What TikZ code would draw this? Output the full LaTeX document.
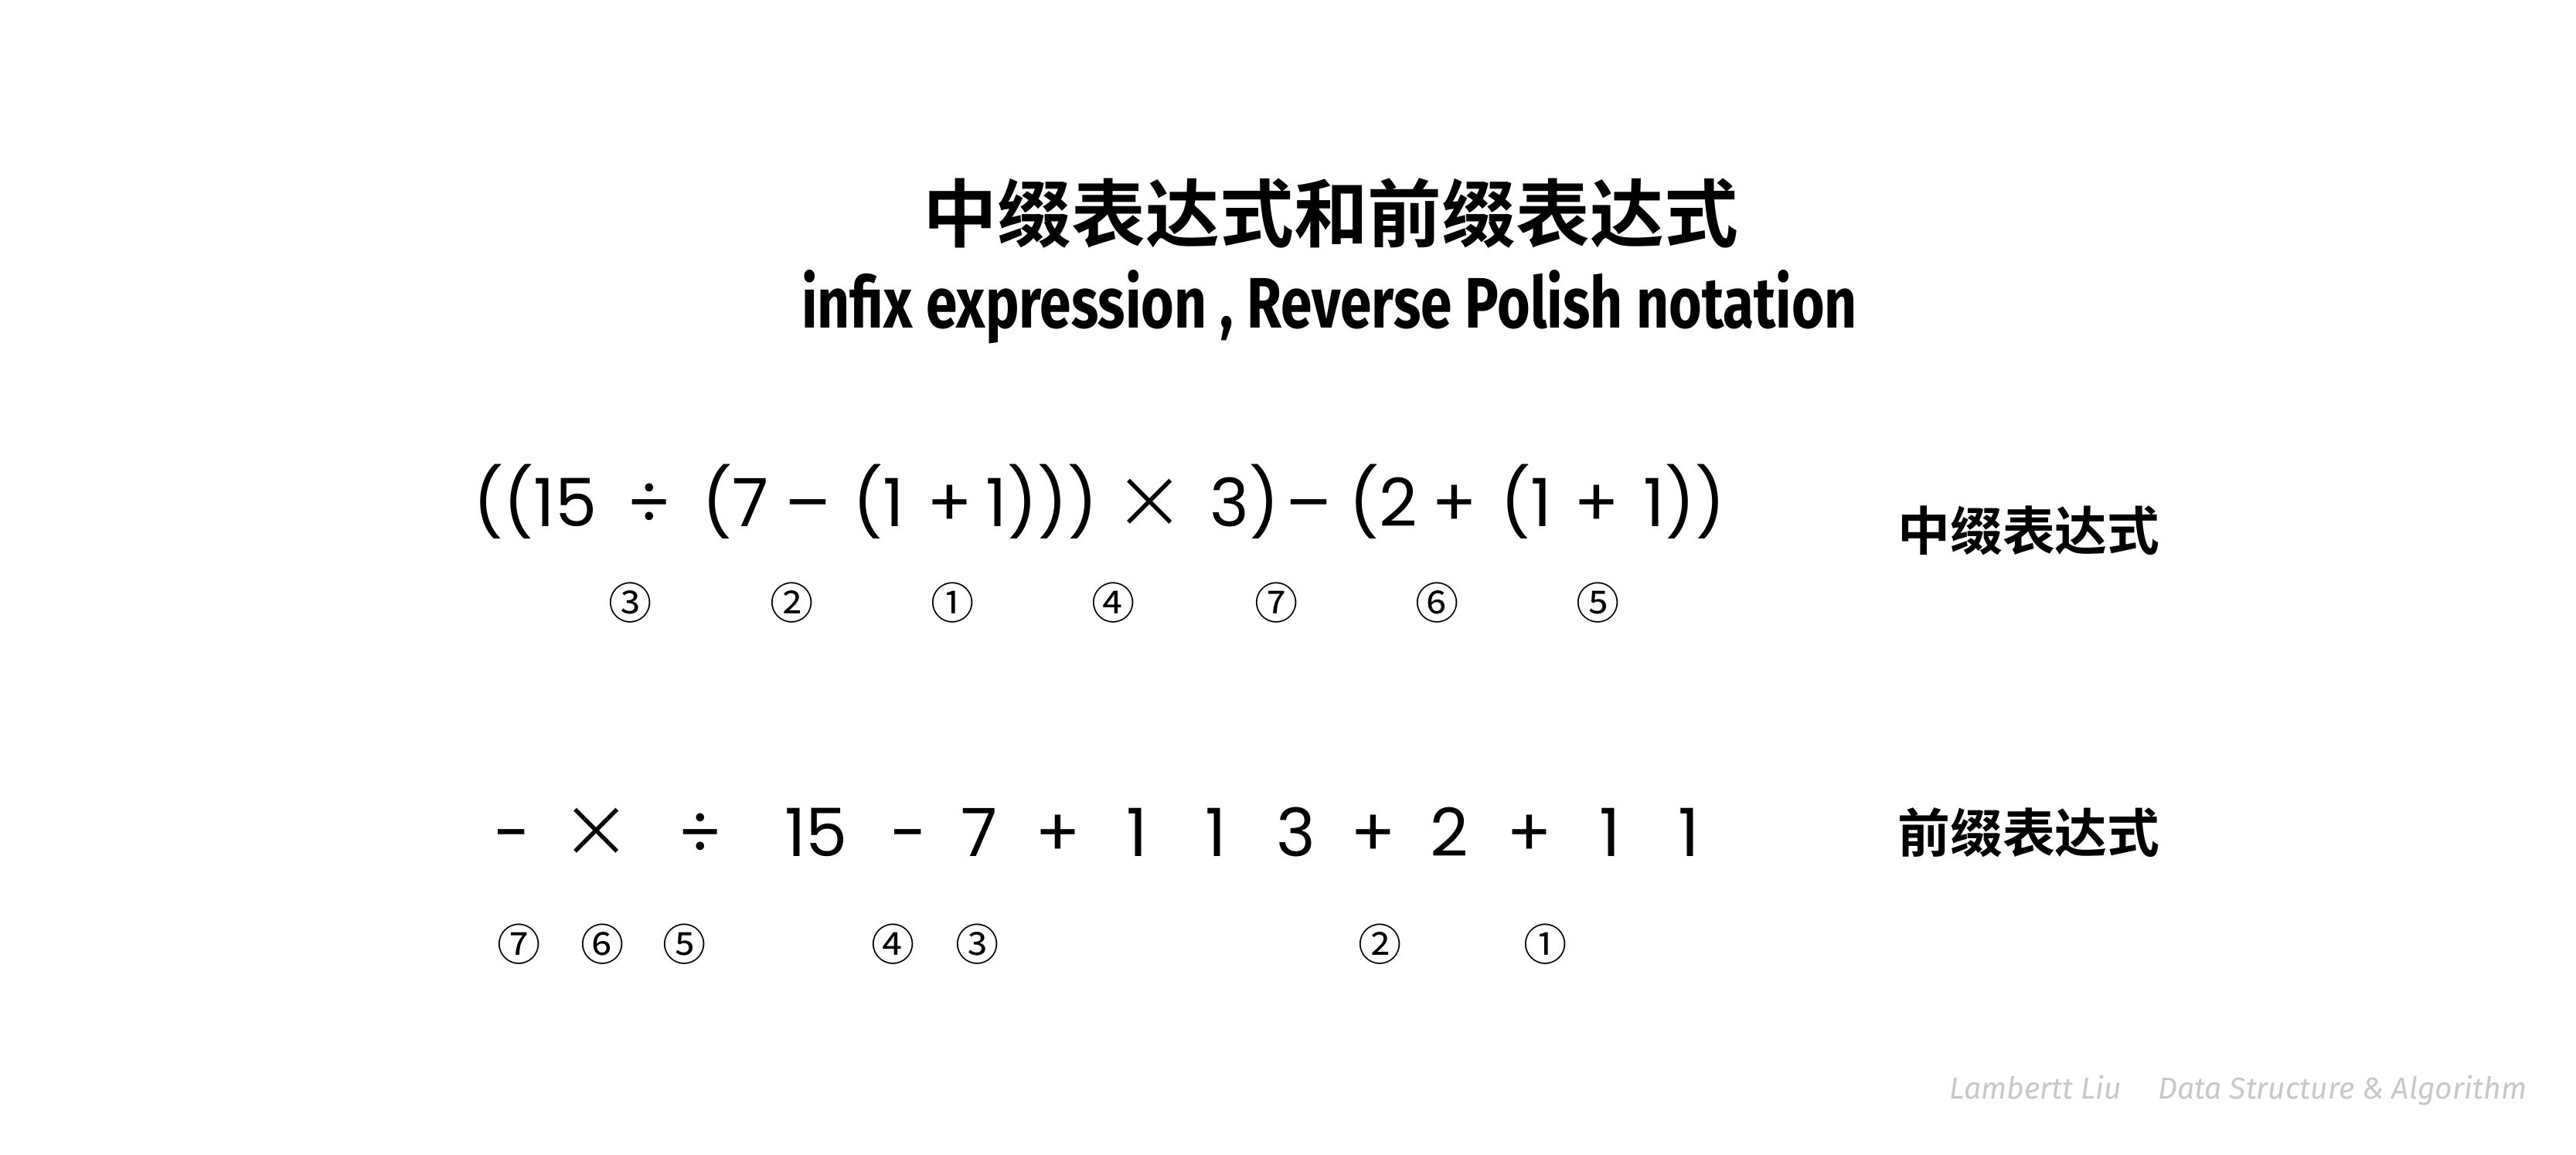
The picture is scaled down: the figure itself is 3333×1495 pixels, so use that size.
\documentclass[tikz,border=0pt]{standalone}
\usepackage{fontspec}
\setmainfont{Poppins}
\newfontfamily\cjkb{Noto Sans CJK SC Bold}
\newfontfamily\cjk{Noto Sans CJK SC}
\newfontfamily\titlefont{Fira Sans}
\newfontfamily\wmfont{Fira Sans}
\newfontfamily\exfont{Poppins}
\newfontfamily\thinfont{DejaVu Sans ExtraLight}
\definecolor{wm}{RGB}{200,200,200}
\newcommand{\bigtimes}{{\thinfont\fontsize{32pt}{32pt}\selectfont\raisebox{-0.02em}{×}}}
\newcommand{\wminus}{\scalebox{1.35}[1]{−}}
\begin{document}
\begin{tikzpicture}[x=0.01cm,y=-0.01cm,
  lbl/.style={font=\cjkb\fontsize{19.3pt}{20pt}\selectfont, inner sep=0},
  circ/.style={font=\cjk\fontsize{16pt}{17pt}\selectfont, inner sep=0},
  tok/.style={font=\exfont\fontsize{24.5pt}{26pt}\selectfont, inner sep=0}]
\useasboundingbox[fill=white] (0,0) rectangle (3333,1495);
% titles
\node[inner sep=0] (t1) at (1722,276) {\resizebox{10.54cm}{!}{\cjkb 中缀表达式和前缀表达式}};
\node[inner sep=0, anchor=base] (t2) at (1720,425) {\resizebox{13.65cm}{0.75cm}{\titlefont\bfseries infix expression , Reverse Polish notation}};
% infix
\foreach \n/\x/\t in {a/612/((15,c/908/(7,e/1103/(1,g/1275/1))),i/1565/3),k/1745/(2,m/1941/(1,o/2126/1))}
  \node[tok, anchor=base west] (i\n) at (\x,682) {\t};
\foreach \n/\x/\t in {b/840/÷,d/1046/\wminus,f/1229/+,h/1488/\bigtimes,j/1694/\wminus,l/1882/+,n/2066/+}
  \node[tok, anchor=base] (i\n) at (\x,682) {\t};
\node[lbl] (l1) at (2625,687) {中缀表达式};
\foreach \n/\x/\c in {a/816/③,b/1025/②,c/1233/①,d/1441/④,e/1652/⑦,f/1860/⑥,g/2068/⑤}
  \node[circ] (c\n) at (\x,780) {\c};
% prefix
\foreach \n/\x/\t in {a/663/-,b/772/\bigtimes,c/906/÷,d/1056/15,e/1176/-,f/1267/7,g/1369/+,h/1471/1,i/1573/1,j/1677/3,k/1777/+,l/1875/2,m/1979/+,n/2083/1,o/2185/1}
  \node[tok, anchor=base] (p\n) at (\x,1108) {\t};
\node[lbl] (l2) at (2625,1078) {前缀表达式};
\foreach \n/\x/\c in {a/672/⑦,b/780/⑥,c/886/⑤,d/1156/④,e/1265/③,f/1786/②,g/2000/①}
  \node[circ] (q\n) at (\x,1222) {\c};
% watermark
\node[inner sep=0, text=wm] (wm) at (2896,1411) {\resizebox{7.46cm}{!}{\wmfont\itshape Lambertt Liu\hspace{1.2em}Data Structure \& Algorithm}};
\end{tikzpicture}
\end{document}
